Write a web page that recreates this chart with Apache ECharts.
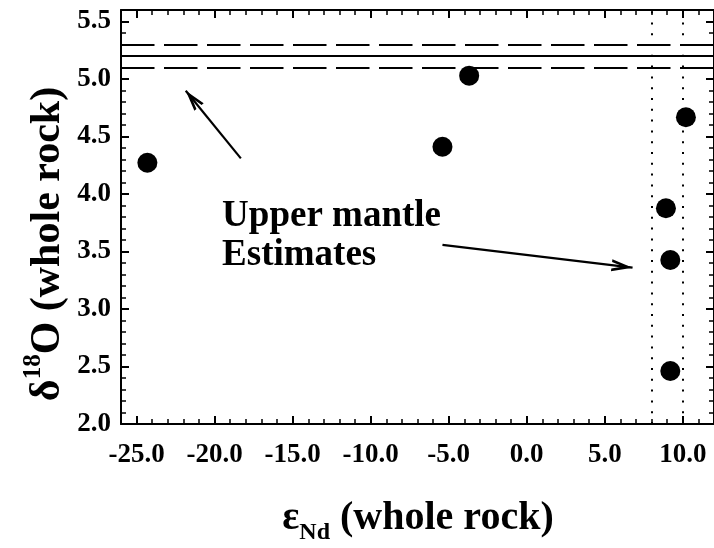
<!DOCTYPE html>
<html><head><meta charset="utf-8">
<script src="https://cdn.jsdelivr.net/npm/echarts@6/dist/echarts.min.js"></script>
<style>html,body{margin:0;padding:0;background:#fff}#c{width:714px;height:548px}</style>
</head><body><div id="c"></div>
<script>
// data
const xValues = [-24.31, -5.40, -3.69, 8.92, 9.20, 9.20, 10.20];
const yValues = [4.272, 4.411, 5.029, 3.876, 3.426, 2.461, 4.667];
const mantleODashed = [5.3, 5.1];
const mantleOSolid = [5.2];
const mantleNd = [8.0, 10.0];
const xMajorTicks = [-25, -20, -15, -10, -5, 0, 5, 10];
const yMajorTicks = [2.0, 2.5, 3.0, 3.5, 4.0, 4.5, 5.0, 5.5];
const arrow1 = [[-18.32, 4.31], [-21.85, 4.898]];
const arrow2 = [[-5.40, 3.557], [6.78, 3.359]];
const noteText = ['Upper mantle', 'Estimates'];
const notePos = [-19.52, 3.635];

const FONT = 'Liberation Serif';
const black = '#000';
const arrowHead = 'path://M6,-20L6,-20ZM6,0L12,20L9.3,20L6,9L2.7,20L0,20Z';

const majorX = (pos, labels) => ({
  type: 'value', gridIndex: 0, position: pos, min: -26, max: 12,
  axisLine: {show: true, onZero: false, lineStyle: {color: black, width: 2}},
  axisTick: {show: true, inside: true, length: 8, customValues: xMajorTicks, lineStyle: {color: black, width: 2}},
  axisLabel: labels ? {show: true, customValues: xMajorTicks, formatter: v => v.toFixed(1), color: black,
    fontFamily: FONT, fontWeight: 'bold', fontSize: 27, margin: 18} : {show: false},
  splitLine: {show: false}
});
const minorX = pos => ({
  type: 'value', gridIndex: 1, position: pos, min: -26, max: 12, interval: 1,
  axisLine: {show: false, onZero: false}, axisLabel: {show: false}, splitLine: {show: false},
  axisTick: {show: true, inside: true, length: 5, lineStyle: {color: black, width: 1.5}}
});
const majorY = (pos, labels) => ({
  type: 'value', gridIndex: 0, position: pos, min: 2.0, max: 5.6, interval: 0.5,
  axisLine: {show: true, onZero: false, lineStyle: {color: black, width: 2}},
  axisTick: {show: true, inside: true, length: 8, customValues: yMajorTicks, lineStyle: {color: black, width: 2}},
  axisLabel: labels ? {show: true, customValues: yMajorTicks, formatter: v => v.toFixed(1), color: black,
    fontFamily: FONT, fontWeight: 'bold', fontSize: 27, margin: 10} : {show: false},
  splitLine: {show: false}
});
const minorY = pos => ({
  type: 'value', gridIndex: 1, position: pos, min: 2.0, max: 5.6, interval: 0.1,
  axisLine: {show: false, onZero: false}, axisLabel: {show: false}, splitLine: {show: false},
  axisTick: {show: true, inside: true, length: 5, lineStyle: {color: black, width: 1.5}}
});

const dashedStyle = {color: black, width: 2, type: [33.5, 9.5]};
const solidStyle = {color: black, width: 2, type: 'solid'};
const arrowStyle = {color: black, width: 2.2, type: 'solid'};
const dottedStyle = {color: black, width: 2, type: [2, 8.8]};

const markData = [];
mantleODashed.forEach(v => markData.push({yAxis: v, lineStyle: dashedStyle}));
mantleOSolid.forEach(v => markData.push({yAxis: v, lineStyle: solidStyle}));
mantleNd.forEach(v => markData.push({xAxis: v, lineStyle: dottedStyle}));
[arrow1, arrow2].forEach(a => markData.push([
  {coord: a[0], symbol: 'none'},
  {coord: a[1], symbol: arrowHead, symbolSize: [12, 42], lineStyle: arrowStyle}
]));

const chart = echarts.init(document.getElementById('c'), null, {renderer: 'canvas'});
chart.setOption({
  animation: false,
  backgroundColor: '#fff',
  grid: [
    {left: 121, right: 0, top: 10, bottom: 124},
    {left: 121, right: 0, top: 10, bottom: 124}
  ],
  xAxis: [majorX('bottom', true), majorX('top', false), minorX('bottom'), minorX('top')],
  yAxis: [majorY('left', true), majorY('right', false), minorY('left'), minorY('right')],
  series: [
    {
      type: 'scatter', xAxisIndex: 0, yAxisIndex: 0, z: 5,
      data: xValues.map((x, i) => [x, yValues[i]]),
      symbol: 'circle', symbolSize: 20, itemStyle: {color: black, opacity: 1}
    },
    {
      type: 'scatter', xAxisIndex: 0, yAxisIndex: 0, z: 4, data: [],
      markLine: {silent: true, symbol: 'none', label: {show: false}, animation: false, data: markData}
    }
  ],
  graphic: [
    {
      id: 'xTitle', type: 'text', x: 418, y: 522,
      style: {
        text: '{m|ε}{s|Nd}{m| (whole rock)}',
        align: 'center', verticalAlign: 'middle',
        rich: {
          m: {fontFamily: FONT, fontWeight: 'bold', fontSize: 40, lineHeight: 46, fill: black, verticalAlign: 'top'},
          s: {fontFamily: FONT, fontWeight: 'bold', fontSize: 24, lineHeight: 46, fill: black, verticalAlign: 'bottom'}
        }
      }
    },
    {
      id: 'yTitle', type: 'text', x: 45, y: 244, rotation: Math.PI / 2,
      style: {
        text: '{m|δ}{s|18}{m|O (whole rock)}',
        align: 'center', verticalAlign: 'middle',
        rich: {
          m: {fontFamily: FONT, fontWeight: 'bold', fontSize: 42, lineHeight: 48, fill: black, verticalAlign: 'bottom'},
          s: {fontFamily: FONT, fontWeight: 'bold', fontSize: 25, lineHeight: 48, fill: black, verticalAlign: 'top'}
        }
      }
    }
  ]
});
// annotation text anchored in data coordinates
const notePx = chart.convertToPixel({xAxisIndex: 0, yAxisIndex: 0}, notePos);
chart.setOption({
  graphic: [{
    id: 'note', type: 'text', x: notePx[0], y: notePx[1], z: 10,
    style: {
      text: noteText.join('\n'), fill: black, fontFamily: FONT, fontWeight: 'bold',
      fontSize: 37, lineHeight: 39, align: 'left', verticalAlign: 'middle'
    }
  }]
});
</script>
</body></html>
